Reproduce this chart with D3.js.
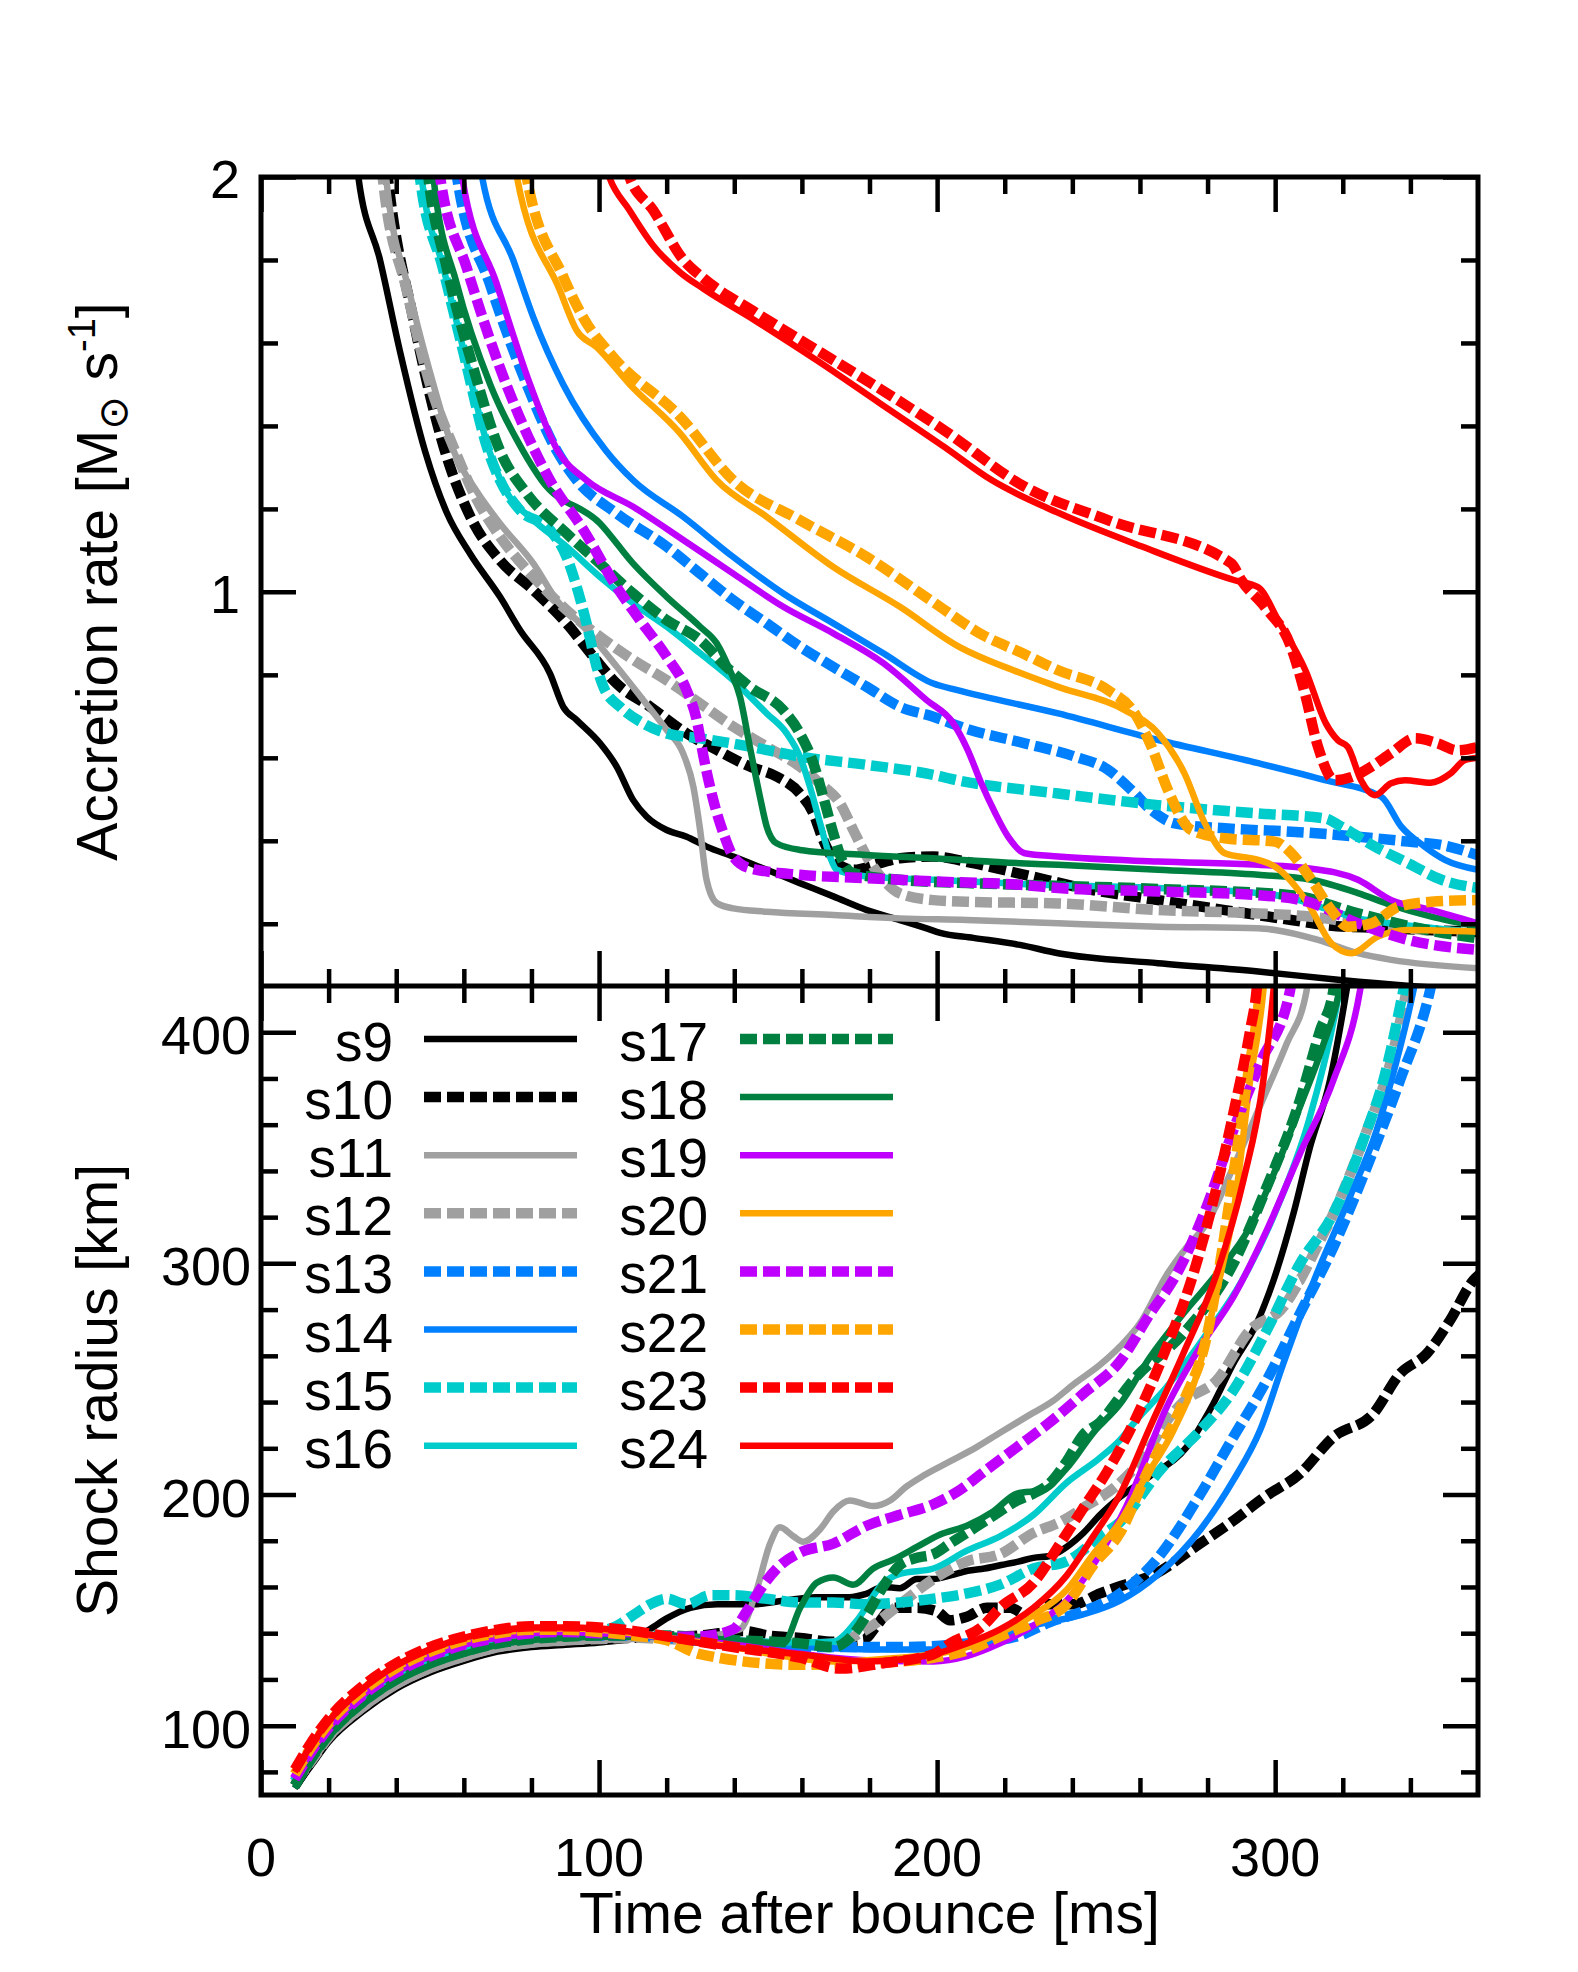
<!DOCTYPE html>
<html><head><meta charset="utf-8">
<script src="https://cdn.jsdelivr.net/npm/d3@7"></script>
<style>body{margin:0;background:#fff} text{font-family:"Liberation Sans",Arial,Helvetica,sans-serif;fill:#000}</style>
</head><body><svg id="c" width="1578" height="1972" xmlns="http://www.w3.org/2000/svg"></svg>
<script>
// ---------------- DATA ----------------
const models = ["s9","s10","s11","s12","s13","s14","s15","s16","s17","s18","s19","s20","s21","s22","s23","s24"];
const xTicksMajor = [0,100,200,300];
const xTickLabels = ["0","100","200","300"];
const accTicksMajor = [1,2];
const accTickLabels = ["1","2"];
const rsTicksMajor = [100,200,300,400];
const rsTickLabels = ["100","200","300","400"];

// Accretion rate [Msun/s] vs time [ms]
const s9_acc = [[25,2.3],[28.8,2.0],[35.2,1.80],[41.1,1.58],[48.5,1.34],[55,1.19],[62,1.09],[70.7,0.988],[76.6,0.908],[85.5,0.803],[89.4,0.723],[93.4,0.691],[100.3,0.635],[105.2,0.579],[110.1,0.498],[114.1,0.458],[120,0.426],[125.9,0.41],[131.8,0.386],[139.7,0.362],[149.6,0.33],[159.4,0.298],[169.3,0.266],[179.2,0.233],[189,0.209],[196.9,0.189],[200.9,0.178],[210.7,0.166],[224.5,0.149],[235.8,0.129],[265.4,0.105],[295,0.085],[318.6,0.065],[340,0.05],[360,0.04]];
const s10_acc = [[34,2.3],[37.5,2.0],[45,1.66],[54.4,1.34],[62,1.18],[70.7,1.076],[80.6,1.004],[90.4,0.924],[98.3,0.844],[105.2,0.779],[115.1,0.723],[125.9,0.659],[134.8,0.619],[144.6,0.579],[152.5,0.555],[159.4,0.514],[163.4,0.466],[166.3,0.402],[170.3,0.346],[175.2,0.33],[183.1,0.346],[189,0.358],[198.9,0.362],[210.7,0.346],[225.9,0.318],[245.6,0.282],[265.4,0.257],[285.1,0.233],[304.8,0.209],[314.7,0.197],[330,0.19],[345,0.185],[360,0.18]];
const s11_acc = [[34,2.3],[37,2.0],[44,1.72],[51,1.5],[57,1.34],[64,1.24],[70.7,1.165],[80.6,1.068],[87.5,0.98],[95.4,0.916],[105.2,0.82],[113.1,0.739],[120,0.667],[124.9,0.61],[127.9,0.53],[129.9,0.426],[131.8,0.306],[134.8,0.25],[139.7,0.237],[149.6,0.229],[169.3,0.221],[189,0.213],[208.7,0.209],[235.8,0.201],[265.4,0.193],[295,0.189],[299.9,0.185],[312.7,0.161],[324.5,0.129],[334.4,0.113],[360,0.093]];
const s12_acc = [[33,2.3],[36,2.0],[43,1.73],[50,1.5],[57.4,1.34],[64,1.22],[70.7,1.133],[80.6,1.036],[90.4,0.956],[100.3,0.892],[110.1,0.836],[120,0.787],[129.9,0.731],[139.7,0.675],[149.6,0.627],[159.4,0.579],[165.4,0.538],[171.3,0.49],[175.2,0.426],[179.2,0.362],[184.1,0.306],[189,0.273],[198.9,0.257],[208.7,0.253],[235.8,0.249],[265.4,0.233],[295,0.225],[310.7,0.217],[330,0.195],[345,0.185],[360,0.175]];
const s13_acc = [[55,2.3],[58,2.0],[67.8,1.74],[78.6,1.5],[87.5,1.34],[93.4,1.269],[105.2,1.189],[120,1.109],[129.9,1.044],[139.7,0.98],[149.6,0.924],[159.4,0.868],[169.3,0.819],[179.2,0.771],[189,0.723],[198.9,0.699],[208.7,0.67],[225.9,0.635],[240.7,0.603],[250.6,0.571],[257.5,0.522],[263.4,0.474],[270.3,0.442],[285.1,0.43],[304.8,0.422],[324.5,0.41],[339.3,0.398],[349.2,0.39],[360,0.365]];
const s14_acc = [[62,2.3],[65.4,2.0],[74.6,1.8],[80.5,1.663],[89.4,1.5],[102,1.341],[110.1,1.269],[124.9,1.181],[139.7,1.084],[154.5,0.996],[169.3,0.924],[184.1,0.852],[198.9,0.779],[206,0.763],[235.8,0.707],[265.4,0.643],[295,0.587],[314.7,0.546],[331.4,0.506],[337.3,0.434],[344.2,0.386],[350.2,0.354],[360,0.33]];
const s15_acc = [[44,2.3],[47,2.0],[53.8,1.78],[59.8,1.58],[67.2,1.34],[70.7,1.269],[76.6,1.197],[85.5,1.149],[90.4,1.084],[93.4,1.012],[96.3,0.924],[99.3,0.819],[101.3,0.771],[106.2,0.723],[113.1,0.683],[120,0.659],[129.9,0.647],[144.6,0.627],[159.4,0.603],[179.2,0.583],[198.9,0.559],[206,0.546],[235.8,0.514],[265.4,0.486],[295,0.466],[314.7,0.454],[319.6,0.434],[329.5,0.386],[339.3,0.346],[349.2,0.306],[360,0.286]];
const s16_acc = [[44,2.3],[47.5,2.0],[54,1.78],[60,1.58],[67.5,1.34],[72,1.25],[80.6,1.173],[90.4,1.109],[100.3,1.036],[110.1,0.972],[120,0.916],[129.9,0.852],[139.7,0.787],[149.6,0.707],[155.5,0.659],[159.4,0.603],[162.4,0.53],[165.4,0.442],[168.3,0.362],[170.3,0.33],[179.2,0.314],[198.9,0.306],[224.5,0.296],[265.4,0.286],[295,0.274],[304.8,0.262],[314.7,0.237],[324.5,0.213],[334.4,0.201],[360,0.18]];
const s17_acc = [[46,2.3],[49.5,2.0],[55,1.78],[62.8,1.54],[70.7,1.34],[78.6,1.237],[90.4,1.141],[100.3,1.068],[110.1,0.996],[120,0.932],[129.9,0.884],[137.7,0.819],[144.6,0.771],[154.5,0.715],[159.4,0.659],[163.4,0.587],[166.3,0.506],[169.3,0.418],[172.3,0.346],[175.2,0.322],[189,0.306],[208.7,0.298],[224.5,0.294],[265.4,0.284],[304.8,0.269],[324.5,0.225],[345,0.185],[360,0.165]];
const s18_acc = [[48,2.3],[51,2.0],[58,1.74],[67.8,1.5],[77.5,1.34],[83,1.269],[100.3,1.165],[110.1,1.068],[120,0.988],[129.9,0.916],[134.8,0.876],[138.7,0.811],[141.7,0.747],[144.6,0.627],[147.6,0.506],[149.6,0.434],[152.5,0.394],[159.4,0.378],[179.2,0.366],[198.9,0.358],[224.5,0.346],[235.8,0.342],[265.4,0.33],[295,0.318],[310.7,0.306],[324.5,0.274],[334.4,0.245],[346.2,0.217],[360,0.193]];
const s19_acc = [[56,2.3],[59.5,2.0],[69.7,1.743],[79.6,1.5],[87.8,1.34],[96.3,1.269],[110.1,1.205],[124.9,1.125],[139.7,1.044],[154.5,0.964],[169.3,0.9],[184.1,0.828],[196.9,0.739],[204.8,0.683],[209,0.62],[213,0.54],[217,0.47],[221,0.41],[225.9,0.37],[235.8,0.362],[265.4,0.35],[295,0.342],[309.7,0.334],[324.5,0.306],[334.4,0.257],[346.2,0.233],[360,0.201]];
const s20_acc = [[72,2.3],[75.7,2.0],[88.4,1.727],[93.4,1.63],[99.3,1.59],[109.1,1.5],[124,1.382],[134.8,1.269],[149.6,1.181],[169.3,1.06],[189,0.964],[206,0.87],[224.5,0.805],[235.8,0.771],[255.5,0.715],[265.4,0.659],[273.2,0.562],[279.2,0.442],[285.1,0.37],[295,0.354],[299.9,0.338],[309.7,0.249],[316.6,0.153],[322.5,0.129],[330.4,0.169],[339.3,0.185],[360,0.181]];
const s21_acc = [[50,2.3],[53,2.0],[60.9,1.78],[70.7,1.54],[81,1.34],[85.5,1.269],[95.4,1.149],[105.2,1.012],[112.1,0.932],[120,0.844],[125.9,0.763],[128.9,0.691],[130.9,0.603],[133.8,0.498],[136.8,0.418],[139.7,0.362],[144.6,0.334],[159.4,0.318],[179.2,0.31],[198.9,0.302],[224.5,0.294],[235.8,0.286],[265.4,0.278],[295,0.269],[309.7,0.253],[324.5,0.201],[339.3,0.161],[360,0.137]];
const s22_acc = [[75,2.3],[78.6,2.0],[89.4,1.76],[95.4,1.66],[104.2,1.566],[124,1.422],[139.7,1.269],[159.4,1.173],[179.2,1.084],[198.9,0.975],[213.7,0.895],[224.5,0.855],[235.8,0.811],[250.6,0.763],[258.5,0.707],[263.4,0.627],[268.3,0.522],[275.2,0.426],[285.1,0.406],[299.9,0.398],[304.8,0.37],[310.7,0.306],[316.6,0.233],[321.6,0.193],[328.5,0.201],[336.4,0.241],[346.2,0.253],[360,0.257]];
const s23_acc = [[106,2.08],[109,2.0],[116,1.92],[125,1.80],[131,1.755],[146,1.675],[165,1.58],[183,1.49],[202,1.39],[226,1.253],[250.5,1.173],[287,1.069],[290,1.028],[297,0.963],[304.7,0.867],[308.8,0.755],[312.7,0.626],[317.6,0.546],[322.4,0.553],[328.3,0.578],[334.3,0.611],[341.4,0.647],[348,0.635],[354,0.618],[360,0.626]];
const s24_acc = [[100,2.08],[103,2.0],[109,1.92],[116,1.835],[124,1.77],[131,1.73],[146,1.655],[165,1.555],[183,1.455],[202,1.35],[216,1.27],[236,1.19],[261,1.108],[288,1.028],[295,1.011],[301,0.93],[309,0.81],[315,0.683],[318.6,0.642],[321.5,0.626],[325.4,0.546],[329.5,0.51],[334.3,0.539],[338.4,0.546],[346,0.54],[352,0.563],[356,0.594],[360,0.60]];

// Shock radius [km] vs time [ms]
const s9_rs = [[10,73],[15,83],[20,93],[30,106],[40,116],[50,123],[60,128],[70,132],[80,134],[90,135],[100,136],[110,138],[115,141.7],[120,146.4],[127,151],[135,152.5],[145,152.5],[154.5,154],[164,155.6],[174,155.6],[179,157],[184,160],[189,159.5],[194,163.4],[199,163.4],[204,165],[209,167],[214,168],[219,169.5],[224,171],[228.5,172.6],[233.4,173.4],[238.3,177.3],[243.3,183.4],[248.2,191.2],[254.1,198.9],[263,208],[273.8,220.5],[281.7,239.3],[287.6,256.6],[294.5,273.9],[299.5,292.6],[305.4,321.5],[310.3,350.3],[316.2,379.1],[321.1,418],[322,426]];
const s10_rs = [[10,74],[15,85],[20,95],[30,108],[40,118],[50,125],[60,130],[70,134],[80,136],[90,137],[100,137.5],[110,138],[120,138.5],[130,139],[142.7,141],[150,139],[159.5,137.9],[169.3,136.3],[178.2,137.1],[182.1,143.3],[187.1,151],[194,151],[199.9,149.5],[203.8,145.6],[208.8,147.1],[214.7,151],[221.6,151],[226.5,147.9],[232.4,152.5],[240.3,152.5],[248.2,157.2],[254.1,160.3],[265,166],[276,177],[287,188],[297,199],[307.3,209],[317.2,224.8],[329,234.9],[336.9,252.2],[344.8,260.9],[351.7,275.3],[358.6,292.6],[362,297]];
const s11_rs = [[10,74],[15,84],[20,94],[30,107],[40,117],[50,124],[60,129],[70,133],[80,135],[90,136],[100,137],[110,137.5],[120,138],[130,138.5],[141.7,141.7],[146.6,158.7],[150.6,178.8],[153.5,185.8],[157.5,181.9],[160.4,179.6],[165.4,185],[169.3,192.7],[174.2,197.4],[181.1,195],[186.1,197.4],[191,203.5],[196,208.2],[203.8,214.3],[211.7,220.5],[218.6,226.7],[226.5,233.7],[234.4,240.6],[240.3,247.6],[248.2,256.1],[254.1,264],[260,274],[267.9,295],[273.8,307],[279.7,317.1],[287.6,341.6],[297.5,374.8],[303.4,395],[309.3,418],[310,426]];
const s12_rs = [[10,75],[15,85],[20,95],[30,108],[40,118],[50,125],[60,130],[70,134],[80,136],[90,137],[100,137.5],[110,138],[120,137.5],[140,136],[160,135],[169.3,135.6],[179.2,141.7],[189,152.5],[198.9,163.4],[208.8,171.1],[218.6,174.2],[228.5,183.4],[236.4,188.1],[243.3,194.3],[254.1,205.1],[262,218],[268,232],[272.8,240],[282.7,249.4],[292.5,271],[302.4,281.1],[307.3,292.6],[312.3,307],[317.2,321.5],[327.1,357.5],[334,386.4],[338.9,418],[340,426]];
const s13_rs = [[10,76],[15,87],[20,97],[30,111],[40,121],[50,128],[60,133],[70,136],[80,138],[90,139],[100,139],[110,139],[120,138],[140,135],[160,134],[189,134],[208.8,135.6],[223.6,138.6],[233.4,144.8],[243.3,149.5],[254.1,157.2],[265,172],[277.8,200],[287.6,224.8],[297.5,249.4],[307.3,278.2],[317.2,307],[327.1,341.6],[336.9,379.1],[345.8,418],[347,426]];
const s14_rs = [[10,76],[15,87],[20,97],[30,111],[40,121],[50,128],[60,133],[70,136.5],[80,138.5],[90,139.5],[100,139.5],[110,139],[120,138],[140,135],[160,134],[180,133],[200,133],[215,136],[228.5,143.3],[243,148],[254.1,154.1],[265,165],[278,185],[287.6,206.1],[295.5,227.7],[302.4,256.6],[312.3,295.5],[322.1,328.7],[330,357.5],[334.9,382],[340.9,418],[342,426]];
const s15_rs = [[10,76],[15,88],[20,98],[30,112],[40,122],[50,129],[60,134],[70,137],[80,139],[90,140],[100,141],[105,143],[110.2,147.9],[115.1,152.5],[120,154.9],[126,152.5],[132.8,156.4],[139.7,156.4],[149.6,154.9],[159.5,153.3],[169.3,153.3],[179.2,152.5],[189,153.3],[198.9,154.9],[208.8,157.2],[218.6,161],[228.5,168],[238.3,171.1],[248.2,181.9],[254.1,188.1],[265.9,210.4],[277.8,227.7],[287.6,245],[297.5,271],[307.3,299.8],[317.2,321.5],[327.1,357.5],[332,379.1],[337.9,418],[339,426]];
const s16_rs = [[10,75],[15,87],[20,97],[30,111],[40,121],[50,128],[60,133],[70,136],[80,138],[90,139],[100,139.5],[110,139.5],[120,139],[140,137],[160,136],[169.3,136.3],[176,145],[184.1,161.8],[189,165.7],[198.9,168],[208.8,175.7],[218.6,181.9],[228.5,191.2],[238.3,205.1],[248.2,215.9],[254.1,223.6],[258,230.6],[267.9,246.5],[280,270],[290,292],[300,322],[310,362],[318,410],[320,426]];
const s17_rs = [[10,74],[15,86],[20,96],[30,110],[40,120],[50,127],[60,132],[70,135.5],[80,137.5],[90,138.5],[100,139],[110,139],[120,139],[140,137],[159.5,135.6],[169.3,134],[174.2,137.9],[179.2,147.9],[184.1,160.3],[189,169.5],[194,172.6],[198.9,174.2],[203.8,178.8],[208.8,183.4],[213.7,188.1],[218.6,192.7],[223.6,197.4],[228.5,200.4],[233.4,205],[238.3,214.3],[243.3,226],[248.2,231.3],[254.1,242.2],[258,249.4],[272.8,269.6],[287.6,299.8],[297.5,333],[307.3,370.5],[313.3,400.8],[317.2,418],[318,426]];
const s18_rs = [[10,73],[15,85],[20,95],[30,109],[40,119],[50,126],[60,131],[70,135],[80,137],[90,138],[100,138.5],[110,138.5],[120,139],[140,137],[154.5,135.6],[159.5,151],[164.4,161.8],[169.3,164.1],[175.2,161],[181.1,168],[187.1,171.9],[194,177.3],[200.9,182.7],[208.8,186.5],[216.6,192.7],[223.6,200.4],[231.4,202],[238.3,211.3],[246.2,226.7],[254.1,239.1],[263,259.5],[272.8,278.2],[282.7,295.5],[292.5,315.7],[300.4,341.6],[307.3,367.6],[314,393.6],[319,418],[320,426]];
const s19_rs = [[10,77],[15,89],[20,99],[30,113],[40,123],[50,130],[60,135],[70,138],[80,140],[90,140.5],[100,140],[110,139.5],[120,138],[140,135],[160,131],[169.3,129.4],[185,128],[198.9,127.8],[208.8,130.1],[218.6,135.6],[228.5,143.3],[238.3,154.1],[248.2,174.2],[256,195],[267.9,237.8],[277.8,263.8],[287.6,285.4],[297.5,314.3],[307.3,347.4],[317.2,379.1],[325.1,418],[326,426]];
const s20_rs = [[10,79],[15,91],[20,101],[30,115],[40,125],[50,132],[60,137],[70,140],[80,141.5],[90,142],[100,141.5],[110,140],[120,138],[139.7,134],[155,130],[169.3,127.8],[189,129.4],[198.9,130.9],[208.8,134],[218.6,140.2],[228.5,147.9],[238.3,158.7],[246.2,174.2],[254.1,188.1],[261,206],[270,228],[277.8,256.6],[283,290],[287.6,321.5],[292.6,379.1],[296.5,418],[297,426]];
const s21_rs = [[10,77],[15,89],[20,99],[30,113],[40,123],[50,130],[60,135],[70,138],[80,140],[90,140.5],[100,140],[110,139.5],[120,138.5],[129.9,138.6],[139.7,141.7],[143.7,149.5],[147.6,158.7],[152.6,168],[159.5,174.9],[169.3,178.8],[179.2,186.5],[189,191.2],[198.9,195.8],[206.8,202],[213.7,209.7],[223.6,220.5],[233.4,231.3],[243.3,243.7],[254.1,257.6],[263,278.2],[270.9,295.5],[279.7,324.4],[287.6,357.5],[295.5,386.4],[304.4,418],[305,426]];
const s22_rs = [[10,79],[15,91],[20,101],[30,115],[40,125],[50,132],[60,137],[70,140],[80,141.5],[90,141.5],[100,140.5],[110,139],[120,137],[129.9,130.9],[159.5,126.3],[179.2,127],[198.9,129.4],[208.8,132.5],[218.6,138.6],[228.5,144.8],[238.3,152.5],[246.2,169.5],[254.1,183.4],[262,209],[272.8,240],[279.7,268],[283.7,300],[287.6,338],[291.6,378],[295.5,418],[296,426]];
const s23_rs = [[10,81],[15,93],[20,103],[30,117],[40,127],[50,134],[60,138.5],[70,141.5],[80,143],[90,143],[100,142.5],[110,141],[120,138.6],[139.7,134],[159.5,129.4],[171.3,124.7],[184.1,127],[198.9,130.9],[203.8,135.6],[213.7,143.3],[218.6,151],[228.5,161.8],[236.4,178.8],[243.3,194.3],[250.2,209.7],[258,230.6],[267.9,263.8],[275.8,295.5],[282.7,333],[287.6,364.7],[292.6,400.8],[294.5,418],[295,426]];
const s24_rs = [[10,80],[15,92],[20,102],[30,116],[40,126],[50,133],[60,138],[70,141],[80,142.5],[90,142.5],[100,142],[110,140.5],[129.9,135.6],[159.5,130.9],[179.2,127.8],[198.9,130.9],[208.8,135.6],[218.6,141.7],[228.5,151],[238.3,164.9],[246.2,181.9],[254.1,200],[263,229.2],[272.8,260.9],[282.7,295.5],[290.6,335.9],[296.5,379.1],[299.5,418],[300,426]];

const accSeries = [s9_acc,s10_acc,s11_acc,s12_acc,s13_acc,s14_acc,s15_acc,s16_acc,s17_acc,s18_acc,s19_acc,s20_acc,s21_acc,s22_acc,s23_acc,s24_acc];
const rsSeries  = [s9_rs,s10_rs,s11_rs,s12_rs,s13_rs,s14_rs,s15_rs,s16_rs,s17_rs,s18_rs,s19_rs,s20_rs,s21_rs,s22_rs,s23_rs,s24_rs];

// ---------------- STYLE ----------------
const BLACK="#000000", GREY="#a0a0a0", BLUE="#0080ff", CYAN="#00cccc", GREEN="#008040", PURPLE="#bf00ff", ORANGE="#ffa500", RED="#ff0000";
const colors = [BLACK,BLACK,GREY,GREY,BLUE,BLUE,CYAN,CYAN,GREEN,GREEN,PURPLE,ORANGE,PURPLE,ORANGE,RED,RED];
const dashed = [false,true,false,true,true,false,true,false,true,false,false,false,true,true,true,false];
const SOLID_W=6.5, DASH_W=10.5, DASH="17,6";

const L=261,R=1478,T=177,M=986,B=1795;
const svg=d3.select("#c");
svg.append("rect").attr("width",1578).attr("height",1972).attr("fill","#fff");

const x=d3.scaleLinear().domain([0,360]).range([L,R]);
const yA=d3.scaleLinear().domain([0.05,2]).range([M,T]);
const yR=d3.scaleLinear().domain([70,420]).range([B,M]);

const defs=svg.append("defs");
defs.append("clipPath").attr("id","clipTop").append("rect").attr("x",L).attr("y",T).attr("width",R-L).attr("height",M-T);
defs.append("clipPath").attr("id","clipBot").append("rect").attr("x",L).attr("y",M).attr("width",R-L).attr("height",B-M);

function styleLine(sel,i){
  sel.attr("fill","none").attr("stroke",colors[i])
     .attr("stroke-width",dashed[i]?DASH_W:SOLID_W)
     .attr("stroke-dasharray",dashed[i]?DASH:null)
     .attr("stroke-linecap","butt").attr("stroke-linejoin","round");
}

const lineA=d3.line().x(d=>x(d[0])).y(d=>yA(d[1])).curve(d3.curveMonotoneX);
const lineR=d3.line().x(d=>x(d[0])).y(d=>yR(d[1])).curve(d3.curveMonotoneX);

const gTop=svg.append("g").attr("clip-path","url(#clipTop)");
const gBot=svg.append("g").attr("clip-path","url(#clipBot)");
models.forEach((m,i)=>{
  gTop.append("path").attr("d",lineA(accSeries[i])).call(styleLine,i);
  gBot.append("path").attr("d",lineR(rsSeries[i])).call(styleLine,i);
});

// ---------------- FRAME + TICKS ----------------
const MAJ=35, MIN=17, TW=4.5;
function range(a,b,s){const r=[];for(let v=a;v<=b+1e-9;v+=s)r.push(+v.toFixed(3));return r;}
const xMinor=range(20,340,20).filter(v=>v%100!==0);
const accMinor=[0.2,0.4,0.6,0.8,1.2,1.4,1.6,1.8];
const rsMinor=range(80,400,20).filter(v=>v%100!==0);

function tickAxis(axisFn,scale,vals,size,tx,ty){
  const g=svg.append("g").attr("transform",`translate(${tx},${ty})`)
    .call(axisFn(scale).tickValues(vals).tickSize(size).tickFormat(""));
  g.select(".domain").remove();
  g.selectAll(".tick line").attr("stroke","#000").attr("stroke-width",TW);
  g.selectAll(".tick text").remove();
}
// x ticks: top edge, middle (both sides), bottom edge
[[d3.axisTop,T,-1],[d3.axisBottom,M,-1],[d3.axisTop,M,-1],[d3.axisBottom,B,-1]].forEach(([fn,y0])=>{
  tickAxis(fn,x,xTicksMajor,-MAJ,0,y0);
  tickAxis(fn,x,xMinor,-MIN,0,y0);
});
// y ticks top panel
tickAxis(d3.axisLeft,yA,accTicksMajor,-MAJ,L,0);
tickAxis(d3.axisLeft,yA,accMinor,-MIN,L,0);
tickAxis(d3.axisRight,yA,accTicksMajor,-MAJ,R,0);
tickAxis(d3.axisRight,yA,accMinor,-MIN,R,0);
// y ticks bottom panel
tickAxis(d3.axisLeft,yR,rsTicksMajor,-MAJ,L,0);
tickAxis(d3.axisLeft,yR,rsMinor,-MIN,L,0);
tickAxis(d3.axisRight,yR,rsTicksMajor,-MAJ,R,0);
tickAxis(d3.axisRight,yR,rsMinor,-MIN,R,0);

svg.append("rect").attr("x",L).attr("y",T).attr("width",R-L).attr("height",B-T)
  .attr("fill","none").attr("stroke","#000").attr("stroke-width",5);
svg.append("line").attr("x1",L).attr("x2",R).attr("y1",M).attr("y2",M)
  .attr("stroke","#000").attr("stroke-width",5);

// ---------------- TICK LABELS ----------------
const FS=54;
xTicksMajor.forEach((v,i)=>svg.append("text").attr("x",x(v)).attr("y",1876)
  .attr("text-anchor","middle").attr("font-size",FS).text(xTickLabels[i]));
accTicksMajor.forEach((v,i)=>svg.append("text").attr("x",240).attr("y",yA(v)+21)
  .attr("text-anchor","end").attr("font-size",FS).text(accTickLabels[i]));
rsTicksMajor.forEach((v,i)=>svg.append("text").attr("x",251).attr("y",yR(v)+22)
  .attr("text-anchor","end").attr("font-size",FS).text(rsTickLabels[i]));

// ---------------- AXIS TITLES ----------------
svg.append("text").attr("x",(L+R)/2).attr("y",1933).attr("text-anchor","middle")
  .attr("font-size",57).text("Time after bounce [ms]");
const ta=svg.append("text").attr("transform",`translate(117,${(T+M)/2}) rotate(-90)`)
  .attr("text-anchor","middle").attr("font-size",57);
ta.append("tspan").text("Accretion rate [M");
ta.append("tspan").attr("font-size",40).attr("dy",10).attr("font-family","DejaVu Sans").text("\u2299");
ta.append("tspan").attr("dy",-10).text(" s");
ta.append("tspan").attr("font-size",38).attr("dy",-22).text("-1");
ta.append("tspan").attr("dy",22).text("]");
svg.append("text").attr("transform",`translate(117,${(M+B)/2}) rotate(-90)`)
  .attr("text-anchor","middle").attr("font-size",57).text("Shock radius [km]");

// ---------------- LEGEND ----------------
const LEG_Y0=1061, LEG_DY=58.1;
const cols=[{tx:393,x1:424,x2:577},{tx:708,x1:740,x2:893}];
models.forEach((m,i)=>{
  const c=cols[i<8?0:1], row=i%8, by=LEG_Y0+row*LEG_DY;
  svg.append("text").attr("x",c.tx).attr("y",by).attr("text-anchor","end").attr("font-size",55).text(m);
  svg.append("line").attr("x1",c.x1).attr("x2",c.x2).attr("y1",by-22).attr("y2",by-22).call(styleLine,i);
});
</script></body></html>
